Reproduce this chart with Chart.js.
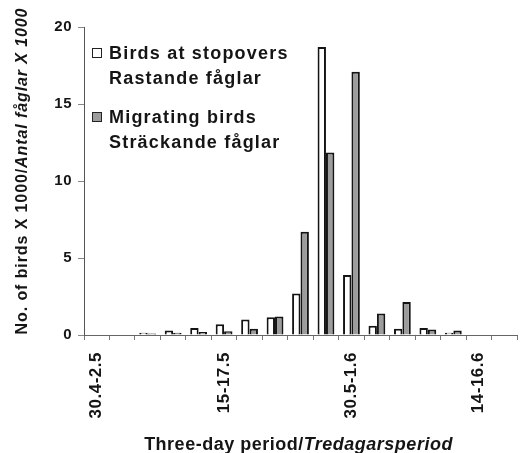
<!DOCTYPE html>
<html>
<head>
<meta charset="utf-8">
<script src="https://cdn.jsdelivr.net/npm/chart.js@4.4.0/dist/chart.umd.min.js"></script>
<style>
  body { margin: 0; background: #fff; }
  #wrap { position: relative; width: 523px; height: 453px; }
  #legend {
    position: absolute; left: 92px; top: 41px;
    font-family: 'Liberation Sans', Arial, sans-serif; font-size: 18px; font-weight: bold;
    letter-spacing: 1.2px; color: #151515; line-height: 25px;
  }
  .item { display: flex; align-items: flex-start; }
  .item + .item { margin-top: 14px; }
  .box { width: 8px; height: 8px; border: 1.5px solid #222; margin-top: 7px; margin-right: 7px; flex: none; }
</style>
</head>
<body>
<div id="wrap">
  <canvas id="c" width="523" height="453"></canvas>
  <div id="legend"></div>
</div>
<script>
// three-day periods (30 April - 19 June)
const periods = ['30.4-2.5', '3-5.5', '6-8.5', '9-11.5', '12-14.5', '15-17.5', '18-20.5', '21-23.5',
  '24-26.5', '27-29.5', '30.5-1.6', '2-4.6', '5-7.6', '8-10.6', '11-13.6', '14-16.6', '17-19.6'];
const xTickLabels = ['30.4-2.5', '15-17.5', '30.5-1.6', '14-16.6'];
const yTicks = [0, 5, 10, 15, 20];

// no. of birds x 1000
const stopoverBirds = [0, 0, 0.15, 0.3, 0.45, 0.7, 1.0, 1.15, 2.7, 18.7, 3.9, 0.6, 0.4, 0.45, 0.15, 0, 0];
const migratingBirds = [0, 0, 0.1, 0.15, 0.2, 0.25, 0.4, 1.2, 6.7, 11.85, 17.1, 1.4, 2.15, 0.35, 0.3, 0, 0];

const seriesNames = [['Birds at stopovers', 'Rastande fåglar'], ['Migrating birds', 'Sträckande fåglar']];
const seriesColors = ['#ffffff', '#9c9c9c'];
const xTitle = ['Three-day period/', 'Tredagarsperiod'];
const yTitle = ['No. of birds X 1000/', 'Antal fåglar X 1000'];

const family = "'Liberation Sans', Arial, sans-serif";

// legend (two lines per entry)
const legend = document.getElementById('legend');
seriesNames.forEach((names, i) => {
  const item = document.createElement('div');
  item.className = 'item';
  item.innerHTML = `<div class="box" style="background:${seriesColors[i]}"></div><div>${names.join('<br>')}</div>`;
  legend.appendChild(item);
});

function drawMixed(ctx, parts, cx, cy, size) {
  const fonts = ['bold ' + size + 'px ' + family, 'italic bold ' + size + 'px ' + family];
  const widths = parts.map((p, i) => { ctx.font = fonts[i]; return ctx.measureText(p).width; });
  let x = cx - (widths[0] + widths[1]) / 2;
  ctx.textAlign = 'left';
  parts.forEach((p, i) => {
    ctx.font = fonts[i];
    ctx.fillText(p, x, cy);
    x += widths[i];
  });
}

// wider text like the scanned figure
const spacingPlugin = {
  id: 'spacing',
  beforeUpdate(chart) { chart.ctx.letterSpacing = '0.5px'; },
  beforeDraw(chart) { chart.ctx.letterSpacing = '0.5px'; }
};

// axis titles: english upright, swedish italic
const titlePlugin = {
  id: 'mixedTitles',
  afterDraw(chart) {
    const ctx = chart.ctx;
    const area = chart.chartArea;
    ctx.save();
    ctx.fillStyle = '#151515';
    ctx.textBaseline = 'middle';
    ctx.letterSpacing = '0.5px';
    drawMixed(ctx, xTitle, (area.left + area.right) / 2 - 2, 445, 18);
    ctx.translate(23, 171);
    ctx.rotate(-Math.PI / 2);
    ctx.letterSpacing = '0.9px';
    drawMixed(ctx, yTitle, 0, 0, 16);
    ctx.restore();
  }
};

new Chart(document.getElementById('c'), {
  type: 'bar',
  data: {
    labels: periods,
    datasets: [
      {
        label: seriesNames[0].join(' '),
        data: stopoverBirds,
        backgroundColor: seriesColors[0],
        borderColor: '#141414',
        borderWidth: 2,
        categoryPercentage: 0.66,
        barPercentage: 1
      },
      {
        label: seriesNames[1].join(' '),
        data: migratingBirds,
        backgroundColor: seriesColors[1],
        borderColor: '#141414',
        borderWidth: 2,
        categoryPercentage: 0.66,
        barPercentage: 1
      }
    ]
  },
  options: {
    responsive: false,
    animation: false,
    layout: { padding: { top: 27, right: 6, left: 0, bottom: 0 } },
    plugins: {
      legend: { display: false },
      tooltip: { enabled: false }
    },
    scales: {
      x: {
        grid: { display: true, drawOnChartArea: false, tickLength: 5, color: '#777', offset: true },
        border: { color: '#666', width: 1 },
        ticks: {
          autoSkip: false,
          minRotation: 90,
          maxRotation: 90,
          padding: 12,
          color: '#151515',
          font: { size: 17, weight: 'bold', family: family },
          callback: function (v) {
            const lbl = this.getLabelForValue(v);
            return xTickLabels.includes(lbl) ? lbl : '';
          }
        },
        afterFit: (s) => {
          s.height = 118;
          s.paddingLeft = 0;
          s.paddingRight = 0;
        }
      },
      y: {
        min: 0,
        max: 20,
        grid: { drawOnChartArea: false, tickLength: 6, color: '#888' },
        border: { color: '#555', width: 1 },
        ticks: { padding: 6, color: '#151515', font: { size: 15, weight: 'bold', family: family } },
        afterBuildTicks: (s) => { s.ticks = yTicks.map(v => ({ value: v })); },
        afterFit: (s) => { s.width = 84; }
      }
    }
  },
  plugins: [spacingPlugin, titlePlugin]
});
</script>
</body>
</html>
